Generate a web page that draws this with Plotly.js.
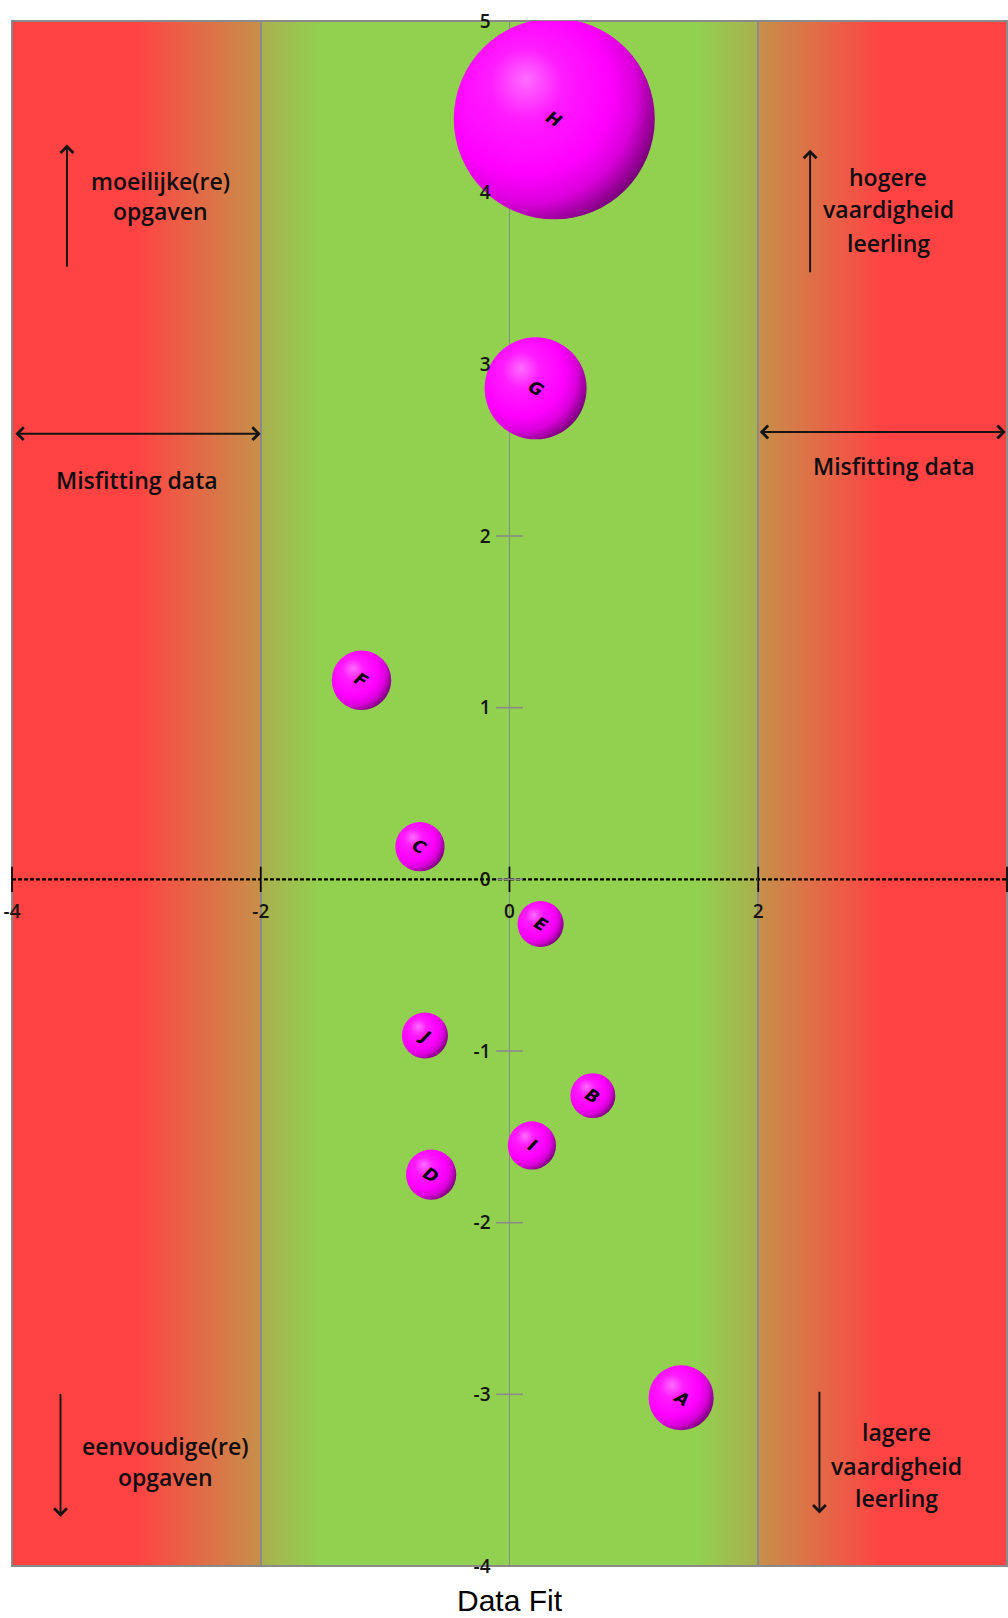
<!DOCTYPE html>
<html>
<head>
<meta charset="utf-8">
<script src="https://cdn.plot.ly/plotly-3.0.1.min.js"></script>
<style>
  html, body { margin: 0; padding: 0; background: #ffffff; }
  #chart { width: 1008px; height: 1618px; }
</style>
</head>
<body>
<div id="chart"></div>
<script>
// Items: label, data fit (x), measure (y) and bubble size
var items = ['A', 'B', 'C', 'D', 'E', 'F', 'G', 'H', 'I', 'J'];
var fitValues = [1.38, 0.67, -0.72, -0.63, 0.25, -1.19, 0.21, 0.36, 0.18, -0.68];
var measureValues = [-3.02, -1.26, 0.19, -1.72, -0.26, 1.16, 2.86, 4.43, -1.55, -0.91];
var bubbleSizes = [4.2, 2.0, 2.4, 2.5, 2.1, 3.5, 10.3, 40, 2.3, 2.1];

// Axis ticks
var xTickVals = [-4, -2, 0, 2, 4];
var xTickText = ['-4', '-2', '0', '2', '4'];
var yTickVals = [-4, -3, -2, -1, 0, 1, 2, 3, 4, 5];
var yTickText = ['-4', '-3', '-2', '-1', '0', '1', '2', '3', '4', '5'];

var GRID = '#8a8a8a';
var INK = '#0d0d14';
var LABEL_FONT = { family: 'Open Sans, sans-serif', size: 23, color: INK, weight: 600 };
var TICK_FONT = { family: 'Open Sans, sans-serif', size: 19, color: '#151515', weight: 600 };

// Horizontal background: red outside, green in the fitting band
var bandStops = [
  [0, '#FF4343'], [0.125, '#FF4343'], [0.25, '#C6904A'], [0.2501, '#AAAF4E'],
  [0.31, '#92D050'], [0.69, '#92D050'], [0.7499, '#AAAF4E'], [0.75, '#C6904A'],
  [0.875, '#FF4343'], [1, '#FF4343']
];
var gradSvg = '<svg xmlns="http://www.w3.org/2000/svg" width="800" height="20" preserveAspectRatio="none">' +
  '<defs><linearGradient id="band" x1="0" y1="0" x2="1" y2="0">' +
  bandStops.map(function (s) { return '<stop offset="' + s[0] + '" stop-color="' + s[1] + '"/>'; }).join('') +
  '</linearGradient></defs><rect x="0" y="0" width="800" height="20" fill="url(#band)"/></svg>';
var gradUri = 'data:image/svg+xml;charset=utf-8,' + encodeURIComponent(gradSvg);

function note(text, x, y) {
  return { text: text, x: x, y: y, xref: 'x', yref: 'y', showarrow: false,
           xanchor: 'center', yanchor: 'middle', font: LABEL_FONT };
}
function arrow(xHead, yHead, xTail, yTail, both) {
  var a = { text: '', x: xHead, y: yHead, ax: xTail, ay: yTail,
            xref: 'x', yref: 'y', axref: 'x', ayref: 'y', showarrow: true,
            arrowhead: 4, arrowsize: 1.3, arrowwidth: 1.9, arrowcolor: '#141414', standoff: 0 };
  if (both) { a.arrowside = 'end+start'; a.startarrowhead = 4; a.startarrowsize = 1.3; a.startstandoff = 0; }
  return a;
}

var annotations = [
  // Left: item difficulty
  arrow(-3.558, 4.28, -3.558, 3.56),
  note('moeilijke(re)', -2.81, 4.069),
  note('opgaven', -2.81, 3.895),
  arrow(-3.61, -3.713, -3.61, -2.99),
  note('eenvoudige(re)', -2.764, -3.302),
  note('opgaven', -2.764, -3.483),
  // Right: student ability
  arrow(2.417, 4.25, 2.417, 3.528),
  note('hogere', 3.044, 4.093),
  note('vaardigheid', 3.044, 3.906),
  note('leerling', 3.044, 3.708),
  arrow(2.492, -3.694, 2.492, -2.976),
  note('lagere', 3.114, -3.220),
  note('vaardigheid', 3.114, -3.416),
  note('leerling', 3.114, -3.606),
  // Misfit zones
  arrow(-2.0, 2.596, -3.985, 2.596, true),
  note('Misfitting data', -2.993, 2.324),
  arrow(3.99, 2.606, 2.0, 2.606, true),
  note('Misfitting data', 3.095, 2.410),
  // Axis title
  { text: 'Data Fit', xref: 'paper', yref: 'paper', x: 0.5, y: 0, yshift: -34,
    xanchor: 'center', yanchor: 'middle', showarrow: false,
    font: { family: 'Liberation Sans, Arial, sans-serif', size: 30, color: '#000' } }
];

// Item letters on the bubbles
items.forEach(function (name, i) {
  annotations.push({ text: name, x: fitValues[i], y: measureValues[i], xref: 'x', yref: 'y',
                     showarrow: false, textangle: 32,
                     font: { family: 'DejaVu Sans, sans-serif', size: 17, color: '#000',
                             style: 'italic', weight: 'bold' } });
});

var maxSize = Math.max.apply(null, bubbleSizes);

var traces = [
  // tick crosses on the x axis (y = 0)
  { type: 'scatter', mode: 'markers', x: xTickVals, y: xTickVals.map(function () { return 0; }),
    marker: { symbol: 'line-ns', size: 18, color: '#000', line: { width: 1.7, color: '#000' } },
    hoverinfo: 'skip', cliponaxis: false },
  // tick crosses on the y axis (x = 0)
  { type: 'scatter', mode: 'markers', x: yTickVals.map(function () { return 0; }), y: yTickVals,
    marker: { symbol: 'line-ew', size: 19, color: GRID, line: { width: 1.6, color: GRID } },
    hoverinfo: 'skip', cliponaxis: false },
  // items
  { type: 'scatter', mode: 'markers', uid: 'spheres', name: 'Items',
    x: fitValues, y: measureValues, text: items,
    marker: { size: bubbleSizes, sizemode: 'area', sizeref: 2 * maxSize / (201 * 201),
              color: '#FF00FF', opacity: 1, line: { width: 0 } } }
];

var layout = {
  width: 1008, height: 1618,
  margin: { l: 12, r: 1, t: 21, b: 52 },
  paper_bgcolor: '#ffffff', plot_bgcolor: 'rgba(0,0,0,0)',
  showlegend: false,
  xaxis: { range: [-4, 4], anchor: 'free', position: 4 / 9,
           tickvals: xTickVals, ticktext: xTickText, ticks: '',
           showgrid: true, gridcolor: GRID, gridwidth: 1.6, zeroline: false, showline: false,
           tickfont: TICK_FONT, ticklabelstandoff: 19, fixedrange: true },
  yaxis: { range: [-4, 5], anchor: 'free', position: 0.5,
           tickvals: yTickVals, ticktext: yTickText, ticks: '',
           showgrid: false, zeroline: false, showline: false,
           tickfont: TICK_FONT, ticklabelstandoff: 19, fixedrange: true },
  images: [{ source: gradUri, xref: 'paper', yref: 'paper', x: 0, y: 1, sizex: 1, sizey: 1,
             xanchor: 'left', yanchor: 'top', sizing: 'stretch', layer: 'below' }],
  shapes: [
    { type: 'rect', xref: 'paper', yref: 'paper', x0: 0, x1: 1, y0: 0, y1: 1,
      line: { color: GRID, width: 2 }, fillcolor: 'rgba(0,0,0,0)', layer: 'below' },
    { type: 'line', xref: 'x', yref: 'y', x0: -4, x1: 4, y0: 0, y1: 0,
      line: { color: '#000', width: 2.2, dash: '4px,2px' }, layer: 'below' }
  ],
  annotations: annotations
};

var gd = document.getElementById('chart');
Plotly.newPlot(gd, traces, layout, { staticPlot: true, displayModeBar: false }).then(function () {
  // Spherical shading for the bubbles
  var NS = 'http://www.w3.org/2000/svg';
  var svg = gd.querySelector('svg.main-svg');
  var defs = svg.querySelector('defs') || svg.insertBefore(document.createElementNS(NS, 'defs'), svg.firstChild);
  var rg = document.createElementNS(NS, 'radialGradient');
  rg.setAttribute('id', 'sphereShade');
  rg.setAttribute('cx', '0.36'); rg.setAttribute('cy', '0.4'); rg.setAttribute('r', '0.72');
  rg.setAttribute('fx', '0.36'); rg.setAttribute('fy', '0.3');
  [[0, '#FF6CFF'], [0.25, '#FF1CFF'], [0.58, '#FF00FF'], [0.76, '#DA00DA'], [0.9, '#8C008C'], [1, '#4E004E']]
    .forEach(function (s) {
      var st = document.createElementNS(NS, 'stop');
      st.setAttribute('offset', s[0]);
      st.setAttribute('stop-color', s[1]);
      rg.appendChild(st);
    });
  defs.appendChild(rg);
  var pts = gd.querySelectorAll('.tracespheres path.point');
  if (!pts.length) {
    var groups = gd.querySelectorAll('.scatterlayer .trace');
    pts = groups[groups.length - 1].querySelectorAll('path.point');
  }
  Array.prototype.forEach.call(pts, function (p) {
    p.style.fill = 'url(#sphereShade)';
    p.style.opacity = '1';
  });
});
</script>
</body>
</html>
